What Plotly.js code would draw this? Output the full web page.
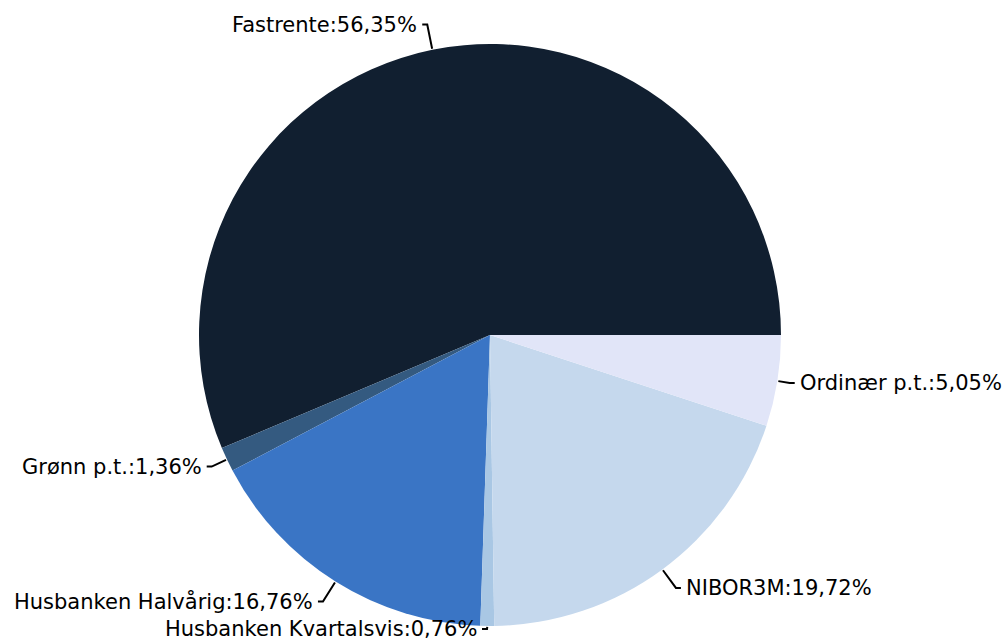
<!DOCTYPE html>
<html>
<head>
<meta charset="utf-8">
<script src="https://cdn.plot.ly/plotly-3.0.1.min.js"></script>
<style>
  html, body { margin: 0; padding: 0; background: #fff; }
  #chart { width: 1005px; height: 638px; }
</style>
</head>
<body>
<div id="chart"></div>
<script>
const labels = ['Fastrente', 'Grønn p.t.', 'Husbanken Halvårig', 'Husbanken Kvartalsvis', 'NIBOR3M', 'Ordinær p.t.'];
const shares = [56.35, 1.36, 16.76, 0.76, 19.72, 5.05];
const colors = ['#111f30', '#345a80', '#3a75c5', '#a9c7e4', '#c5d8ed', '#e1e5f8'];

const W = 1005, H = 638;
const margin = { l: 0, r: 25, t: 44, b: 12 };
const plotW = W - margin.l - margin.r;
const plotH = H - margin.t - margin.b;
const cx = margin.l + plotW / 2;
const cy = margin.t + plotH / 2;
const R = Math.min(plotW, plotH) / 2;

// pixel -> paper
const px = x => (x - margin.l) / plotW;
const py = y => 1 - (y - margin.t) / plotH;

const fmt = v => v.toFixed(2).replace('.', ',') + '%';

const total = shares.reduce((a, b) => a + b, 0);
const annotations = [];
const shapes = [];
let cum = 0;
shares.forEach((v, i) => {
  const mid = (cum + v / 2) / total * 2 * Math.PI;
  cum += v;
  const c = Math.cos(mid), s = Math.sin(mid);
  const side = c < 0 ? -1 : 1;
  // leader: longer near top/bottom, short near the sides
  const len = 10 + 16 * Math.abs(s);
  const x0 = cx + (R + 1) * c, y0 = cy - (R + 1) * s;
  let x1 = cx + (R + len) * c, y1 = cy - (R + len) * s;
  y1 = Math.min(Math.max(y1, 14), H - 9);
  const x2 = x1 + side * 5;
  shapes.push({
    type: 'path', xref: 'paper', yref: 'paper',
    path: `M${px(x0)},${py(y0)} L${px(x1)},${py(y1)} L${px(x2)},${py(y1)}`,
    line: { color: '#000', width: 2 }
  });
  annotations.push({
    xref: 'paper', yref: 'paper',
    x: px(x2 + side * 3), y: py(y1),
    xanchor: side < 0 ? 'right' : 'left', yanchor: 'middle',
    text: labels[i] + ':' + fmt(v),
    showarrow: false,
    font: { family: 'DejaVu Sans', size: 21, color: '#000' }
  });
});

// counterclockwise pies in plotly end the first slice at `rotation`,
// so shift it back so Fastrente starts at 3 o'clock
const trace = {
  type: 'pie',
  labels: labels,
  values: shares,
  sort: false,
  direction: 'counterclockwise',
  rotation: 90 - shares[0] / total * 360,
  textinfo: 'none',
  hoverinfo: 'label+percent',
  marker: { colors: colors, line: { width: 0 } }
};

Plotly.newPlot('chart', [trace], {
  width: W,
  height: H,
  margin: margin,
  showlegend: false,
  paper_bgcolor: '#fff',
  annotations: annotations,
  shapes: shapes
}, { displayModeBar: false });
</script>
</body>
</html>
